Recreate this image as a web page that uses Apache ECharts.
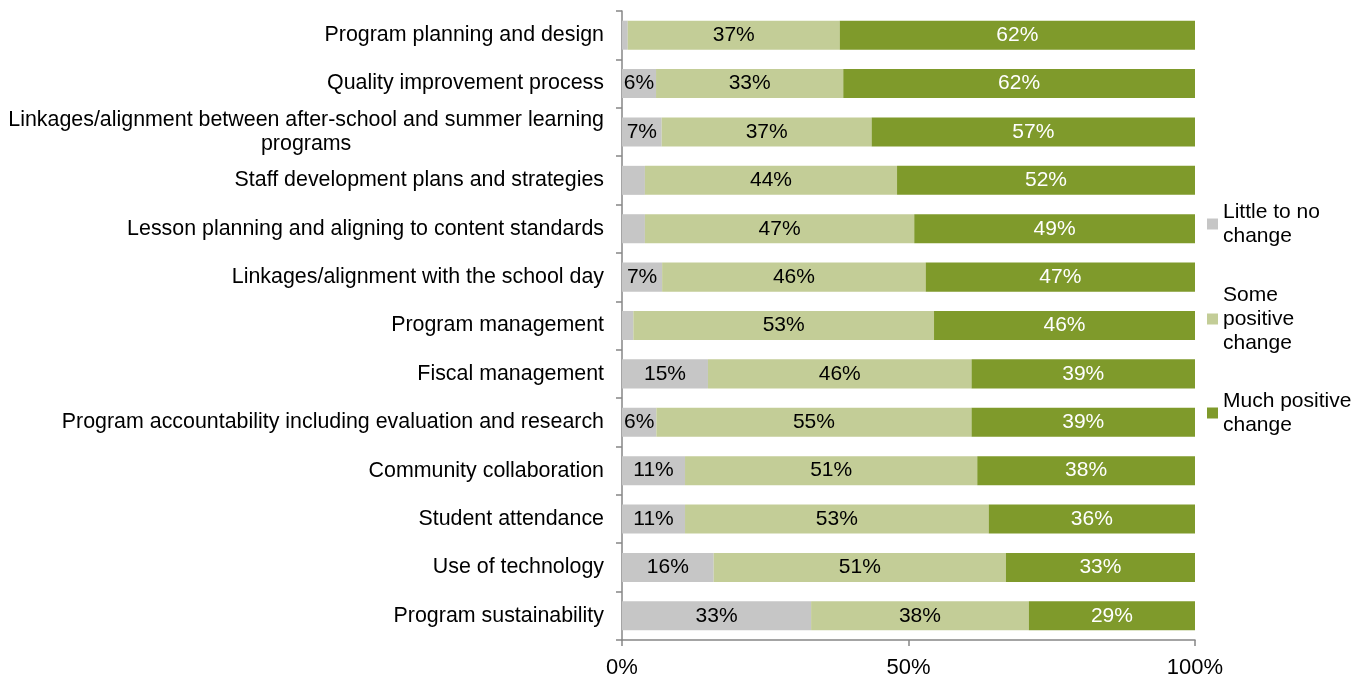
<!DOCTYPE html>
<html>
<head>
<meta charset="utf-8">
<script src="https://cdn.jsdelivr.net/npm/echarts@6/dist/echarts.min.js"></script>
<style>
html,body{margin:0;padding:0;background:#fff;}
#chart{width:1356px;height:679px;}
</style>
</head>
<body>
<div id="chart"></div>
<script>
const categories = [
  'Program planning and design',
  'Quality improvement process',
  'Linkages/alignment between after-school and summer learning\nprograms',
  'Staff development plans and strategies',
  'Lesson planning and aligning to content standards',
  'Linkages/alignment with the school day',
  'Program management',
  'Fiscal management',
  'Program accountability including evaluation and research',
  'Community collaboration',
  'Student attendance',
  'Use of technology',
  'Program sustainability'
];
const seriesNames = ['Little to no change', 'Some positive change', 'Much positive change'];
const legendLabels = ['Little to no\nchange', 'Some\npositive\nchange', 'Much positive\nchange'];
const littleToNo   = [1, 6, 7, 4, 4, 7, 2, 15, 6, 11, 11, 16, 33];
const somePositive = [37, 33, 37, 44, 47, 46, 53, 46, 55, 51, 53, 51, 38];
const muchPositive = [62, 62, 57, 52, 49, 47, 46, 39, 39, 38, 36, 33, 29];
const xTicks = [0, 50, 100];

const colors = ['#C6C6C6', '#C3CD97', '#7F9A2B'];
const labelColors = ['#000000', '#000000', '#FFFFFF'];
const FONT = 'Liberation Sans, Arial, sans-serif';
const FS = 21;
const CAT_FS = 21.4;

const raw = [littleToNo, somePositive, muchPositive];
const totals = categories.map((c, i) => raw[0][i] + raw[1][i] + raw[2][i]);

const series = raw.map((arr, s) => ({
  name: seriesNames[s],
  type: 'bar',
  stack: 'total',
  barCategoryGap: '40%',
  itemStyle: { color: colors[s] },
  label: {
    show: true,
    position: 'inside',
    color: labelColors[s],
    fontSize: FS,
    fontFamily: FONT,
    formatter: p => (p.data.raw >= 5 ? p.data.raw + '%' : '')
  },
  emphasis: { disabled: true },
  data: arr.map((v, i) => ({ value: v / totals[i] * 100, raw: v }))
}));

const legendCenters = [224, 319, 413];
const LH = 24;
const legends = seriesNames.map((name, k) => {
  const n = legendLabels[k].split('\n').length;
  return {
    orient: 'vertical',
    left: 1207,
    top: legendCenters[k] - ((2 * n - 1) * LH) / 2,
    padding: 0,
    itemWidth: 11,
    itemHeight: 11,
    itemGap: 0,
    icon: 'rect',
    selectedMode: false,
    data: [name],
    formatter: () => legendLabels[k],
    textStyle: {
      fontSize: FS,
      fontFamily: FONT,
      color: '#000',
      lineHeight: LH,
      padding: [(n - 1) * LH, 0, 0, 0]
    }
  };
});

const chart = echarts.init(document.getElementById('chart'), null, { renderer: 'canvas' });
chart.setOption({
  animation: false,
  backgroundColor: '#fff',
  color: colors,
  grid: { left: 622, right: 161, top: 11, bottom: 39, containLabel: false },
  legend: legends,
  xAxis: {
    type: 'value',
    min: xTicks[0],
    max: xTicks[xTicks.length - 1],
    interval: xTicks[1] - xTicks[0],
    splitLine: { show: false },
    axisLine: { show: true, lineStyle: { color: '#868686', width: 1.5 } },
    axisTick: { show: true, length: 6, lineStyle: { color: '#868686', width: 1.5 } },
    axisLabel: {
      fontSize: 22,
      fontFamily: FONT,
      color: '#000',
      margin: 17,
      formatter: v => v + '%'
    }
  },
  yAxis: {
    type: 'category',
    inverse: true,
    data: categories,
    axisLine: { show: true, lineStyle: { color: '#868686', width: 1.5 } },
    axisTick: { show: true, length: 6, lineStyle: { color: '#868686', width: 1.5 } },
    axisLabel: {
      margin: 18,
      interval: 0,
      formatter: v => v.split('\n').map(l => '{c|' + l + '}').join('\n'),
      rich: {
        c: { align: 'center', fontSize: CAT_FS, fontFamily: FONT, color: '#000', lineHeight: LH }
      }
    }
  },
  series: series
});
</script>
</body>
</html>
